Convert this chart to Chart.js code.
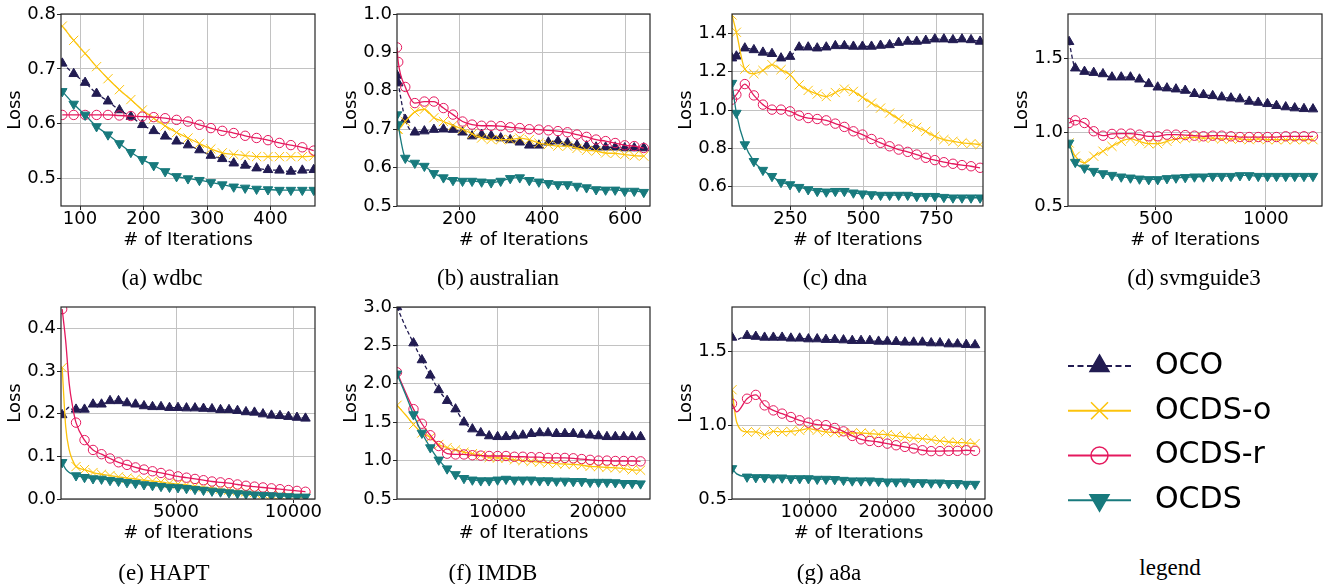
<!DOCTYPE html>
<html>
<head>
<meta charset="utf-8">
<script src="https://cdn.jsdelivr.net/npm/chart.js@4"></script>
<style>
  body { margin: 0; background: #fff; width: 1328px; height: 584px; position: relative; overflow: hidden; }
  canvas { position: absolute; }
  .cap { position: absolute; width: 300px; text-align: center; font-family: "Liberation Serif", serif; font-size: 23px; line-height: 26px; color: #000; }
</style>
</head>
<body>
<script>
// series (same order in every panel)
const seriesNames = ["OCO", "OCDS-o", "OCDS-r", "OCDS"];
const seriesColors = ["#221c52", "#fcc30c", "#e5195e", "#187a7d"];

// (a) wdbc
const wdbcIter = [72, 90, 108, 126, 144, 162, 180, 198, 216, 234, 252, 270, 288, 306, 324, 342, 360, 378, 396, 414, 432, 450, 468];
const wdbcOCO = [0.710, 0.691, 0.675, 0.655, 0.641, 0.625, 0.613, 0.598, 0.587, 0.577, 0.568, 0.561, 0.552, 0.542, 0.536, 0.528, 0.524, 0.519, 0.516, 0.515, 0.513, 0.515, 0.516];
const wdbcOCDSo = [0.778, 0.752, 0.728, 0.704, 0.682, 0.662, 0.644, 0.625, 0.610, 0.596, 0.584, 0.574, 0.564, 0.554, 0.547, 0.544, 0.542, 0.540, 0.540, 0.540, 0.540, 0.540, 0.541];
const wdbcOCDSr = [0.616, 0.616, 0.616, 0.616, 0.616, 0.615, 0.614, 0.613, 0.612, 0.610, 0.607, 0.604, 0.598, 0.592, 0.587, 0.583, 0.578, 0.574, 0.570, 0.565, 0.561, 0.557, 0.551];
const wdbcOCDS = [0.659, 0.636, 0.616, 0.595, 0.580, 0.564, 0.548, 0.535, 0.524, 0.513, 0.504, 0.500, 0.497, 0.493, 0.489, 0.485, 0.483, 0.481, 0.480, 0.479, 0.479, 0.479, 0.479];
const wdbcXTicks = [100, 200, 300, 400];
const wdbcYTicks = [0.5, 0.6, 0.7, 0.8];

// (b) australian
const ausIter = [50, 53, 70, 93, 116, 139, 162, 185, 208, 231, 254, 277, 300, 323, 346, 369, 392, 415, 438, 461, 484, 507, 530, 553, 576, 599, 622, 645];
const ausOCO = [0.84, 0.82, 0.725, 0.692, 0.695, 0.699, 0.70, 0.699, 0.692, 0.682, 0.686, 0.683, 0.677, 0.672, 0.666, 0.658, 0.658, 0.666, 0.669, 0.664, 0.658, 0.656, 0.653, 0.653, 0.653, 0.651, 0.651, 0.651];
const ausOCDSo = [0.70, 0.70, 0.72, 0.745, 0.752, 0.73, 0.72, 0.71, 0.70, 0.688, 0.677, 0.673, 0.673, 0.673, 0.677, 0.673, 0.664, 0.66, 0.656, 0.656, 0.65, 0.645, 0.643, 0.638, 0.637, 0.634, 0.631, 0.63];
const ausOCDSr = [0.913, 0.875, 0.81, 0.768, 0.772, 0.772, 0.755, 0.738, 0.72, 0.712, 0.709, 0.709, 0.708, 0.705, 0.703, 0.70, 0.699, 0.697, 0.695, 0.692, 0.686, 0.68, 0.673, 0.669, 0.664, 0.658, 0.656, 0.651];
const ausOCDS = [0.738, 0.712, 0.625, 0.612, 0.604, 0.585, 0.574, 0.567, 0.565, 0.565, 0.563, 0.561, 0.565, 0.572, 0.574, 0.567, 0.563, 0.559, 0.556, 0.556, 0.552, 0.548, 0.543, 0.542, 0.542, 0.539, 0.539, 0.536];
const ausXTicks = [200, 400, 600];
const ausYTicks = [0.5, 0.6, 0.7, 0.8, 0.9, 1.0];

// (c) dna
const dnaIter = [50, 65, 94, 125, 156, 187, 218, 249, 280, 311, 342, 373, 404, 435, 466, 497, 528, 559, 590, 621, 652, 683, 714, 745, 776, 807, 838, 869, 900];
const dnaOCO = [1.27, 1.28, 1.322, 1.313, 1.30, 1.293, 1.27, 1.278, 1.327, 1.327, 1.322, 1.327, 1.334, 1.334, 1.331, 1.331, 1.331, 1.336, 1.339, 1.351, 1.357, 1.357, 1.362, 1.369, 1.369, 1.365, 1.369, 1.365, 1.357];
const dnaOCDSo = [1.495, 1.405, 1.213, 1.189, 1.206, 1.236, 1.21, 1.183, 1.131, 1.102, 1.083, 1.07, 1.091, 1.109, 1.097, 1.066, 1.036, 1.01, 0.984, 0.953, 0.929, 0.91, 0.889, 0.863, 0.846, 0.837, 0.829, 0.825, 0.82];
const dnaOCDSr = [1.054, 1.08, 1.135, 1.076, 1.028, 1.002, 1.002, 0.993, 0.971, 0.958, 0.953, 0.946, 0.929, 0.912, 0.889, 0.872, 0.849, 0.829, 0.811, 0.794, 0.782, 0.768, 0.751, 0.739, 0.728, 0.72, 0.713, 0.707, 0.699];
const dnaOCDS = [1.14, 0.984, 0.82, 0.733, 0.687, 0.655, 0.624, 0.612, 0.598, 0.586, 0.577, 0.574, 0.577, 0.577, 0.569, 0.564, 0.56, 0.557, 0.557, 0.557, 0.557, 0.551, 0.551, 0.551, 0.546, 0.543, 0.543, 0.543, 0.543];
const dnaXTicks = [250, 500, 750];
const dnaYTicks = [0.6, 0.8, 1.0, 1.2, 1.4];

// (d) svmguide3
const svmIter = [105, 133, 175, 217, 259, 300, 342, 384, 425, 467, 508, 550, 591, 633, 675, 716, 758, 799, 841, 882, 924, 965, 1007, 1048, 1090, 1131, 1173, 1214];
const svmOCO = [1.612, 1.433, 1.41, 1.403, 1.394, 1.372, 1.372, 1.372, 1.358, 1.327, 1.304, 1.298, 1.291, 1.282, 1.26, 1.253, 1.246, 1.237, 1.23, 1.224, 1.208, 1.201, 1.192, 1.179, 1.17, 1.163, 1.158, 1.156];
const svmOCDSo = [0.927, 0.837, 0.792, 0.837, 0.871, 0.904, 0.938, 0.954, 0.938, 0.922, 0.922, 0.938, 0.954, 0.96, 0.967, 0.96, 0.96, 0.954, 0.954, 0.954, 0.949, 0.954, 0.949, 0.949, 0.949, 0.949, 0.949, 0.949];
const svmOCDSr = [1.062, 1.08, 1.062, 1.006, 0.976, 0.988, 0.99, 0.99, 0.983, 0.972, 0.972, 0.983, 0.983, 0.98, 0.976, 0.972, 0.976, 0.976, 0.972, 0.967, 0.967, 0.967, 0.967, 0.967, 0.972, 0.972, 0.972, 0.972];
const svmOCDS = [0.927, 0.797, 0.758, 0.736, 0.72, 0.709, 0.698, 0.691, 0.684, 0.68, 0.68, 0.687, 0.691, 0.694, 0.698, 0.698, 0.702, 0.702, 0.702, 0.707, 0.707, 0.702, 0.702, 0.702, 0.702, 0.702, 0.702, 0.702];
const svmXTicks = [500, 1000];
const svmYTicks = [0.5, 1.0, 1.5];

// (e) HAPT
const haptIter = [150, 300, 450, 600, 740, 1102, 1464, 1826, 2188, 2550, 2912, 3274, 3636, 3998, 4360, 4722, 5084, 5446, 5808, 6170, 6532, 6894, 7256, 7618, 7980, 8342, 8704, 9066, 9428, 9790, 10152, 10514];
const haptOCO = [0.197, 0.208, 0.215, 0.21, 0.21, 0.21, 0.222, 0.222, 0.23, 0.23, 0.225, 0.222, 0.218, 0.216, 0.216, 0.214, 0.214, 0.213, 0.213, 0.212, 0.211, 0.209, 0.209, 0.207, 0.204, 0.203, 0.199, 0.196, 0.195, 0.193, 0.191, 0.189];
const haptOCDSo = [0.308, 0.17, 0.115, 0.09, 0.076, 0.069, 0.062, 0.058, 0.055, 0.052, 0.049, 0.047, 0.044, 0.042, 0.040, 0.037, 0.035, 0.033, 0.030, 0.028, 0.026, 0.023, 0.021, 0.019, 0.017, 0.015, 0.012, 0.010, 0.009, 0.007, 0.005, 0.004];
const haptOCDSr = [0.445, 0.37, 0.27, 0.215, 0.179, 0.138, 0.115, 0.105, 0.095, 0.086, 0.080, 0.074, 0.069, 0.065, 0.061, 0.057, 0.053, 0.050, 0.047, 0.044, 0.041, 0.039, 0.037, 0.034, 0.031, 0.029, 0.027, 0.025, 0.023, 0.021, 0.019, 0.017];
const haptOCDS = [0.086, 0.07, 0.062, 0.058, 0.055, 0.051, 0.048, 0.047, 0.044, 0.042, 0.039, 0.037, 0.034, 0.032, 0.030, 0.028, 0.027, 0.025, 0.023, 0.021, 0.019, 0.017, 0.015, 0.013, 0.012, 0.010, 0.009, 0.008, 0.007, 0.006, 0.005, 0.005];
const haptXTicks = [5000, 10000];
const haptYTicks = [0.0, 0.1, 0.2, 0.3, 0.4];

// (f) IMDB
const imdbIter = [0, 820, 1640, 2476, 3312, 4148, 4984, 5820, 6656, 7492, 8328, 9164, 10000, 10836, 11672, 12508, 13344, 14180, 15016, 15852, 16688, 17524, 18360, 19196, 20032, 20868, 21704, 22540, 23376, 24212];
const imdbOCO = [3.0, 2.75, 2.53, 2.31, 2.11, 1.92, 1.78, 1.67, 1.50, 1.41, 1.36, 1.32, 1.31, 1.31, 1.32, 1.33, 1.35, 1.36, 1.36, 1.35, 1.35, 1.35, 1.34, 1.33, 1.32, 1.31, 1.31, 1.31, 1.31, 1.31];
const imdbOCDSo = [1.72, 1.60, 1.47, 1.36, 1.30, 1.21, 1.17, 1.14, 1.11, 1.09, 1.07, 1.04, 1.035, 1.03, 1.01, 1.0, 0.99, 0.98, 0.97, 0.96, 0.955, 0.95, 0.94, 0.925, 0.92, 0.91, 0.905, 0.895, 0.88, 0.875];
const imdbOCDSr = [2.15, 1.90, 1.67, 1.48, 1.33, 1.19, 1.09, 1.08, 1.08, 1.07, 1.065, 1.06, 1.06, 1.06, 1.05, 1.05, 1.045, 1.045, 1.035, 1.035, 1.035, 1.03, 1.02, 1.01, 1.0, 1.0, 0.995, 0.995, 0.995, 0.99];
const imdbOCDS = [2.13, 1.87, 1.6, 1.36, 1.17, 1.01, 0.895, 0.82, 0.77, 0.75, 0.74, 0.74, 0.75, 0.76, 0.75, 0.75, 0.75, 0.74, 0.74, 0.735, 0.735, 0.73, 0.73, 0.72, 0.72, 0.72, 0.715, 0.705, 0.705, 0.70];
const imdbXTicks = [10000, 20000];
const imdbYTicks = [0.5, 1.0, 1.5, 2.0, 2.5, 3.0];

// (g) a8a
const a8aIter = [100, 700, 2030, 3155, 4280, 5405, 6530, 7655, 8780, 9905, 11030, 12155, 13280, 14405, 15530, 16655, 17780, 18905, 20030, 21155, 22280, 23405, 24530, 25655, 26780, 27905, 29030, 30155, 31280];
const a8aOCO = [1.594, 1.58, 1.606, 1.60, 1.594, 1.594, 1.594, 1.588, 1.588, 1.583, 1.583, 1.579, 1.579, 1.576, 1.572, 1.572, 1.572, 1.567, 1.567, 1.565, 1.561, 1.561, 1.561, 1.556, 1.556, 1.549, 1.549, 1.545, 1.543];
const a8aOCDSo = [1.24, 1.02, 0.954, 0.954, 0.936, 0.958, 0.954, 0.958, 0.965, 0.976, 0.965, 0.954, 0.949, 0.949, 0.947, 0.947, 0.943, 0.938, 0.936, 0.927, 0.92, 0.913, 0.909, 0.902, 0.893, 0.886, 0.882, 0.88, 0.875];
const a8aOCDSr = [1.145, 1.09, 1.179, 1.205, 1.134, 1.10, 1.078, 1.055, 1.033, 1.017, 1.004, 1.0, 0.981, 0.958, 0.927, 0.904, 0.893, 0.886, 0.875, 0.864, 0.853, 0.842, 0.83, 0.824, 0.824, 0.826, 0.826, 0.83, 0.826];
const a8aOCDS = [0.707, 0.67, 0.65, 0.646, 0.646, 0.644, 0.644, 0.639, 0.639, 0.639, 0.635, 0.635, 0.633, 0.628, 0.624, 0.624, 0.624, 0.621, 0.617, 0.617, 0.617, 0.612, 0.612, 0.61, 0.61, 0.606, 0.606, 0.601, 0.601];
const a8aXTicks = [10000, 20000, 30000];
const a8aYTicks = [0.5, 1.0, 1.5];

// placement of every sub-plot: plot box [left, top, width, height], caption centre
const panels = [
  { cap: "(a) wdbc", x: wdbcIter, ys: [wdbcOCO, wdbcOCDSo, wdbcOCDSr, wdbcOCDS], xt: wdbcXTicks, yt: wdbcYTicks, xr: [70, 470], yr: [0.45, 0.8], box: [61, 14, 254, 192], capAt: [162, 278], unmarked: [] },
  { cap: "(b) australian", x: ausIter, ys: [ausOCO, ausOCDSo, ausOCDSr, ausOCDS], xt: ausXTicks, yt: ausYTicks, xr: [50, 660], yr: [0.5, 1.0], box: [397, 14, 253, 192], capAt: [498, 278], unmarked: [] },
  { cap: "(c) dna", x: dnaIter, ys: [dnaOCO, dnaOCDSo, dnaOCDSr, dnaOCDS], xt: dnaXTicks, yt: dnaYTicks, xr: [50, 910], yr: [0.5, 1.5], box: [732, 14, 251, 192], capAt: [835, 278], unmarked: [] },
  { cap: "(d) svmguide3", x: svmIter, ys: [svmOCO, svmOCDSo, svmOCDSr, svmOCDS], xt: svmXTicks, yt: svmYTicks, xr: [100, 1255], yr: [0.5, 1.8], box: [1068, 14, 254, 192], capAt: [1194, 278], unmarked: [] },
  { cap: "(e) HAPT", x: haptIter, ys: [haptOCO, haptOCDSo, haptOCDSr, haptOCDS], xt: haptXTicks, yt: haptYTicks, xr: [100, 10920], yr: [0, 0.45], box: [61, 307, 254, 192], capAt: [164, 573], unmarked: [1, 2, 3] },
  { cap: "(f) IMDB", x: imdbIter, ys: [imdbOCO, imdbOCDSo, imdbOCDSr, imdbOCDS], xt: imdbXTicks, yt: imdbYTicks, xr: [0, 25150], yr: [0.5, 3.0], box: [397, 307, 253, 192], capAt: [493, 573], unmarked: [1] },
  { cap: "(g) a8a", x: a8aIter, ys: [a8aOCO, a8aOCDSo, a8aOCDSr, a8aOCDS], xt: a8aXTicks, yt: a8aYTicks, xr: [100, 32560], yr: [0.5, 1.8], box: [732, 307, 253, 192], capAt: [829, 573], unmarked: [1] }
];

const FONT = "DejaVu Sans";
const GRID = "#c2c2c2";
const INK = "#000";

// marker shape per series: [pointStyle, rotation, radius in plots, radius in legend, filled]
const markers = [
  ["triangle", 0, 5.5, 11, true],
  ["crossRot", 0, 6.5, 12, false],
  ["circle", 0, 4.7, 8.5, false],
  ["triangle", 180, 5.5, 11, true]
];

function seriesStyle(k, big) {
  const c = seriesColors[k];
  const m = markers[k];
  return {
    borderColor: c,
    borderWidth: big ? 2.2 : 1.3,
    borderDash: k === 0 ? (big ? [6, 3.5] : [4, 2.5]) : [],
    pointStyle: m[0],
    rotation: m[1],
    pointBackgroundColor: m[4] ? c : "rgba(0,0,0,0)",
    pointBorderColor: c,
    pointBorderWidth: big ? 1.5 : 1,
    cubicInterpolationMode: "monotone",
    fill: false
  };
}

// black frame round the plot area, like matplotlib spines
const frame = {
  id: "frame",
  afterDatasetsDraw(chart) {
    const { ctx, chartArea: a } = chart;
    ctx.save();
    ctx.strokeStyle = "#262626";
    ctx.lineWidth = 1.2;
    ctx.strokeRect(a.left, a.top, a.right - a.left, a.bottom - a.top);
    ctx.restore();
  }
};

function addCanvas(left, top, w, h) {
  const cv = document.createElement("canvas");
  cv.width = w; cv.height = h;
  cv.style.left = left + "px"; cv.style.top = top + "px";
  cv.style.width = w + "px"; cv.style.height = h + "px";
  document.body.appendChild(cv);
  return cv;
}

function addCaption(text, cx, cy) {
  const d = document.createElement("div");
  d.className = "cap";
  d.textContent = text;
  d.style.left = (cx - 150) + "px";
  d.style.top = (cy - 13) + "px";
  document.body.appendChild(d);
}

const AXW = 60, AXH = 60, PADT = 14, PADR = 30;

panels.forEach(p => {
  const [L, T, W, H] = p.box;
  const cv = addCanvas(L - AXW, T - PADT, W + AXW + PADR, H + PADT + AXH);
  new Chart(cv, {
    type: "line",
    data: {
      datasets: seriesNames.map((name, k) => Object.assign({
        label: name,
        order: 3 - k,
        data: p.x.map((x, i) => ({ x: x, y: p.ys[k][i] })),
        pointRadius: ctx => p.unmarked.includes(ctx.dataIndex) ? 0 : markers[k][2]
      }, seriesStyle(k, false)))
    },
    options: {
      responsive: false,
      animation: false,
      devicePixelRatio: 1,
      layout: { padding: { left: 0, top: PADT, right: PADR, bottom: 0 } },
      plugins: { legend: { display: false }, tooltip: { enabled: false } },
      scales: {
        x: {
          type: "linear",
          min: p.xr[0], max: p.xr[1],
          afterBuildTicks: s => { s.ticks = p.xt.map(v => ({ value: v })); },
          afterFit: s => { s.height = AXH; s.paddingLeft = 0; s.paddingRight = 0; },
          ticks: { color: INK, font: { family: FONT, size: 18, lineHeight: 1 }, padding: 0, maxRotation: 0, autoSkip: false, callback: v => String(v) },
          grid: { color: GRID, lineWidth: 1, tickColor: "#262626", tickLength: 4 },
          border: { display: false },
          title: { display: true, text: "# of Iterations", color: INK, font: { family: FONT, size: 18 }, padding: { top: 0, bottom: 15 } }
        },
        y: {
          type: "linear",
          min: p.yr[0], max: p.yr[1],
          afterBuildTicks: s => { s.ticks = p.yt.map(v => ({ value: v })); },
          afterFit: s => { s.width = AXW; s.paddingTop = 0; s.paddingBottom = 0; },
          ticks: { color: INK, font: { family: FONT, size: 18, lineHeight: 1 }, padding: 1, autoSkip: false, callback: v => v.toFixed(1) },
          grid: { color: GRID, lineWidth: 1, tickColor: "#262626", tickLength: 4 },
          border: { display: false },
          title: { display: true, text: "Loss", color: INK, font: { family: FONT, size: 18 }, padding: { top: 4, bottom: 0 } }
        }
      }
    },
    plugins: [frame]
  });
  addCaption(p.cap, p.capAt[0], p.capAt[1]);
});

// legend: short sample line per series, names as right-hand category ticks
const legendSlots = ["", "", ""];
const lcv = addCanvas(1060, 332, 268, 210);
new Chart(lcv, {
  type: "line",
  data: {
    labels: legendSlots,
    datasets: seriesNames.map((name, k) => Object.assign({
      label: name,
      data: legendSlots.map(() => name),
      pointRadius: ctx => ctx.dataIndex === 1 ? markers[k][3] : 0
    }, seriesStyle(k, true), { cubicInterpolationMode: "default", tension: 0 }))
  },
  options: {
    responsive: false,
    animation: false,
    devicePixelRatio: 1,
    layout: { padding: { left: 8, top: 11.6, right: 0, bottom: 19.4 } },
    plugins: { legend: { display: false }, tooltip: { enabled: false } },
    scales: {
      x: { type: "category", display: false, offset: false },
      y: {
        type: "category",
        labels: seriesNames,
        position: "right",
        offset: true,
        afterFit: s => { s.width = 197; s.paddingTop = 0; s.paddingBottom = 0; },
        ticks: { color: INK, font: { family: FONT, size: 30, lineHeight: 1 }, padding: 24 },
        grid: { display: false, drawTicks: false },
        border: { display: false }
      }
    }
  }
});
addCaption("legend", 1170, 568);
</script>
</body>
</html>
